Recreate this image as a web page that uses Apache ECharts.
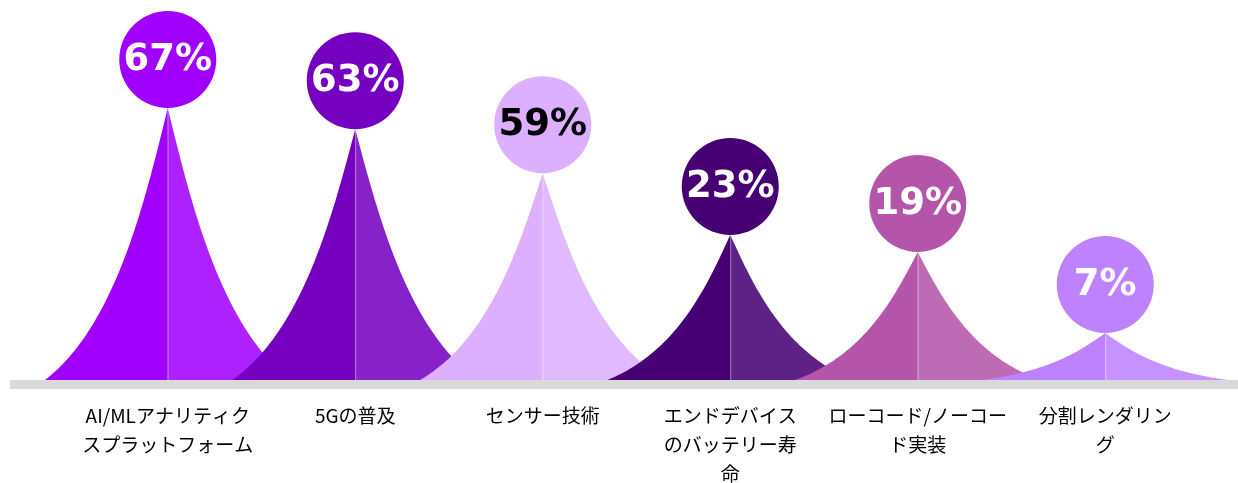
<!DOCTYPE html>
<html><head><meta charset="utf-8">
<script src="https://cdn.jsdelivr.net/npm/echarts@6/dist/echarts.min.js"></script>
<style>html,body{margin:0;padding:0;background:#fff}#c{width:1238px;height:483px}</style>
</head><body><div id="c"></div>
<script>
const categories = ['AI/MLアナリティクスプラットフォーム','5Gの普及','センサー技術','エンドデバイスのバッテリー寿命','ローコード/ノーコード実装','分割レンダリング'];
const tickLabels = ['AI/MLアナリティク\nスプラットフォーム','5Gの普及','センサー技術','エンドデバイス\nのバッテリー寿\n命','ローコード/ノーコー\nド実装','分割レンダリン\nグ'];
const percentValues = [67, 63, 59, 23, 19, 7];
const peakHeights = [73.5, 67.8, 55.9, 39.2, 34.6, 12.7];
const colors = ['#A100FF', '#7500C0', '#DCAFFF', '#460073', '#B455AA', '#BE82FF'];
const labelColors = ['#ffffff', '#ffffff', '#000000', '#ffffff', '#ffffff', '#ffffff'];

const chart = echarts.init(document.getElementById('c'));

function bez(p0, p1, p2, p3, t) {
  const u = 1 - t;
  return u*u*u*p0 + 3*u*u*t*p1 + 3*u*t*t*p2 + t*t*t*p3;
}

function renderItem(params, api) {
  const idx = params.dataIndex;
  const i = api.value(0);
  const h = api.value(1);
  const tip = api.coord([i, h]);
  const base = api.coord([i, 0]);
  const cx = tip[0], ty = tip[1], by = base[1];
  const H = by - ty;
  const w = api.size([1, 0])[0] * 0.655;
  const r = 48.5;
  function half(sign) {
    const pts = [];
    for (let k = 0; k <= 60; k++) {
      const t = k / 60;
      const o = bez(0, 0.18, 0.42, 1, t);
      const d = bez(0, 0.33, 0.8, 1, t);
      pts.push([cx + sign * o * w, ty + d * H]);
    }
    pts.push([cx, by]);
    return pts;
  }
  return {
    type: 'group',
    children: [
      { type: 'polygon', shape: { points: half(-1) }, style: { fill: colors[idx] } },
      { type: 'polygon', shape: { points: half(1) }, style: { fill: colors[idx], opacity: 0.87 } },
      { type: 'line', shape: { x1: cx + 0.5, y1: ty, x2: cx + 0.5, y2: by }, style: { stroke: 'rgba(255,255,255,0.3)', lineWidth: 1 } },
      { type: 'circle', shape: { cx: cx, cy: ty - r, r: r }, style: { fill: colors[idx] } },
      { type: 'text', x: cx, y: ty - r + 1,
        style: { text: percentValues[idx] + '%', fill: labelColors[idx],
          font: 'bold 37px "DejaVu Sans"', align: 'center', verticalAlign: 'middle',
          textAlign: 'center', textVerticalAlign: 'middle' } }
    ]
  };
}

chart.setOption({
  animation: false,
  backgroundColor: '#ffffff',
  grid: { left: 74, right: 39, top: 10, bottom: 103, containLabel: false, outerBoundsMode: 'none' },
  xAxis: {
    type: 'category',
    data: categories,
    axisLine: { show: false },
    axisTick: { show: false },
    axisLabel: {
      interval: 0,
      margin: 21,
      fontSize: 19,
      lineHeight: 29,
      color: '#000000',
      fontFamily: '"Noto Sans CJK JP", sans-serif',
      formatter: function (v, i) { return tickLabels[i]; }
    }
  },
  yAxis: { type: 'value', min: 0, max: 100, show: false, splitLine: { show: false } },
  graphic: [
    { type: 'rect', left: 10, top: 380, shape: { width: 1228, height: 9 }, style: { fill: '#d9d9d9' }, z: 0 }
  ],
  series: [{
    type: 'custom',
    renderItem: renderItem,
    clip: false,
    data: percentValues.map((v, i) => [i, peakHeights[i], v])
  }]
});
</script>
</body></html>
